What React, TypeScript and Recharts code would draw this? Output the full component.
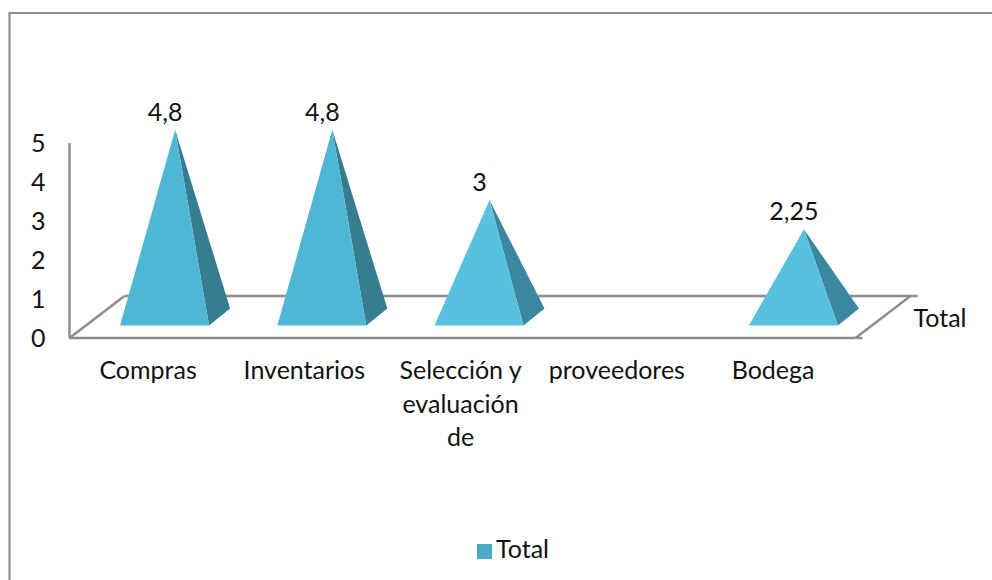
import React from 'react';
import { BarChart, Bar, XAxis, YAxis, Legend, LabelList, usePlotArea } from 'recharts';

const categories = ['Compras', 'Inventarios', 'Selección y evaluación de', 'proveedores', 'Bodega'];
const totals: (number | null)[] = [4.8, 4.8, 3, null, 2.25];
const yTicks = [0, 1, 2, 3, 4, 5];
const seriesName = 'Total';

const rows = categories.map((name, i) => ({ name, [seriesName]: totals[i] }));

const FONT = 'Lato, "Open Sans", sans-serif';
const FONT_SIZE = 25;
const TEXT = '#111';
const WALL = '#8c8c8c';

// Depth of the 3D floor, and the part of it one pyramid base occupies.
const DEPTH_X = 55;
const DEPTH_Y = 42;
const BASE_SKEW_X = 10.5;
const BASE_SKEW_Y = 8.5;

const decimal = (v: number) => String(v).replace('.', ',');

const wrapLabel = (label: string, maxChars: number) => {
  const lines: string[] = [];
  label.split(' ').forEach((word) => {
    const last = lines[lines.length - 1];
    if (last !== undefined && (last + ' ' + word).length <= maxChars) lines[lines.length - 1] = last + ' ' + word;
    else lines.push(word);
  });
  return lines;
};

// Chart frame, floor parallelogram and the depth axis label, painted behind the pyramids.
const Floor = () => {
  const area = usePlotArea();
  if (!area) return null;
  const left = area.x;
  const right = area.x + area.width;
  const front = area.y + area.height;
  const back = front - DEPTH_Y;
  const lineProps = { stroke: WALL, strokeWidth: 2.4, fill: 'none' };
  return (
    <g>
      <path d="M9.5 580 V13 H992" stroke="#8f8f8f" strokeWidth={2.2} fill="none" />
      <line x1={left} y1={front} x2={left + DEPTH_X} y2={back} {...lineProps} />
      <line x1={left + DEPTH_X} y1={back} x2={right + DEPTH_X + 7} y2={back} {...lineProps} />
      <line x1={right} y1={front} x2={right + DEPTH_X} y2={back} {...lineProps} />
      <line x1={right} y1={front} x2={right + 7} y2={front} {...lineProps} />
      <text x={940} y={317} textAnchor="middle" dominantBaseline="central" fontFamily={FONT} fontSize={FONT_SIZE} fill={TEXT}>
        {seriesName}
      </text>
    </g>
  );
};

// Square pyramid standing at mid-depth of the floor: front face plus right-hand face.
const Pyramid = (props: any) => {
  const { x, y, width, height, value } = props;
  if (value == null || !width) return null;
  const cx = x + width / 2 + DEPTH_X / 2 - 0.5;
  const mid = y + height - DEPTH_Y / 2;
  const apexY = y - DEPTH_Y / 2;
  const frontY = mid + BASE_SKEW_Y;
  const backY = mid - BASE_SKEW_Y;
  const frontL = cx - width / 2 - BASE_SKEW_X;
  const frontR = cx + width / 2 - BASE_SKEW_X;
  const backR = cx + width / 2 + BASE_SKEW_X;
  const tall = value > 4;
  return (
    <g>
      <polygon points={`${frontR},${frontY} ${backR},${backY} ${cx},${apexY}`} fill={tall ? '#367d91' : '#3b87a0'} />
      <polygon points={`${frontL},${frontY} ${frontR},${frontY} ${cx},${apexY}`} fill={tall ? '#4fb6d3' : '#58c1df'} />
    </g>
  );
};

// Value text sits over the front face of the pyramid, a little left of the apex.
const ValueLabel = (props: any) => {
  const { x, y, width, value } = props;
  if (value == null) return null;
  return (
    <text
      x={x + width / 2 + DEPTH_X / 2 - BASE_SKEW_X}
      y={y - DEPTH_Y / 2 - 19}
      textAnchor="middle"
      dominantBaseline="central"
      fontFamily={FONT}
      fontSize={FONT_SIZE}
      fill={TEXT}
    >
      {decimal(value)}
    </text>
  );
};

const CategoryTick = (props: any) => {
  const { x, y, payload, index } = props;
  return (
    <text textAnchor="middle" fontFamily={FONT} fontSize={FONT_SIZE} fill={TEXT}>
      {wrapLabel(payload.value, 11).map((line, i) => (
        <tspan key={line} x={x - index * 0.95} y={y + 33.5 * i - 7} dominantBaseline="central">
          {line}
        </tspan>
      ))}
    </text>
  );
};

export default function App() {
  return (
    <div style={{ position: 'absolute', left: 0, top: 0 }}>
      <BarChart
        width={992}
        height={580}
        data={rows}
        margin={{ top: 143, left: 29.5, right: 136.5, bottom: 7 }}
        barCategoryGap="21.7%"
      >
        <Floor />
        <XAxis
          dataKey="name"
          height={195}
          interval={0}
          tickLine={false}
          axisLine={{ stroke: WALL, strokeWidth: 2.4 }}
          tick={<CategoryTick />}
          tickMargin={32}
        />
        <YAxis
          width={40}
          domain={[0, 5]}
          ticks={yTicks}
          tickLine={false}
          axisLine={{ stroke: WALL, strokeWidth: 2.4 }}
          tick={{ fontFamily: FONT, fontSize: FONT_SIZE, fill: TEXT }}
          tickMargin={18}
        />
        <Legend
          verticalAlign="bottom"
          height={40}
          iconType="square"
          iconSize={15}
          wrapperStyle={{ left: 0, width: 1036, fontFamily: FONT, fontSize: FONT_SIZE }}
          formatter={(v: string) => <span style={{ color: TEXT }}>{v}</span>}
        />
        <Bar dataKey={seriesName} fill="#4babc6" shape={<Pyramid />} isAnimationActive={false}>
          <LabelList dataKey={seriesName} content={<ValueLabel />} />
        </Bar>
      </BarChart>
    </div>
  );
}
